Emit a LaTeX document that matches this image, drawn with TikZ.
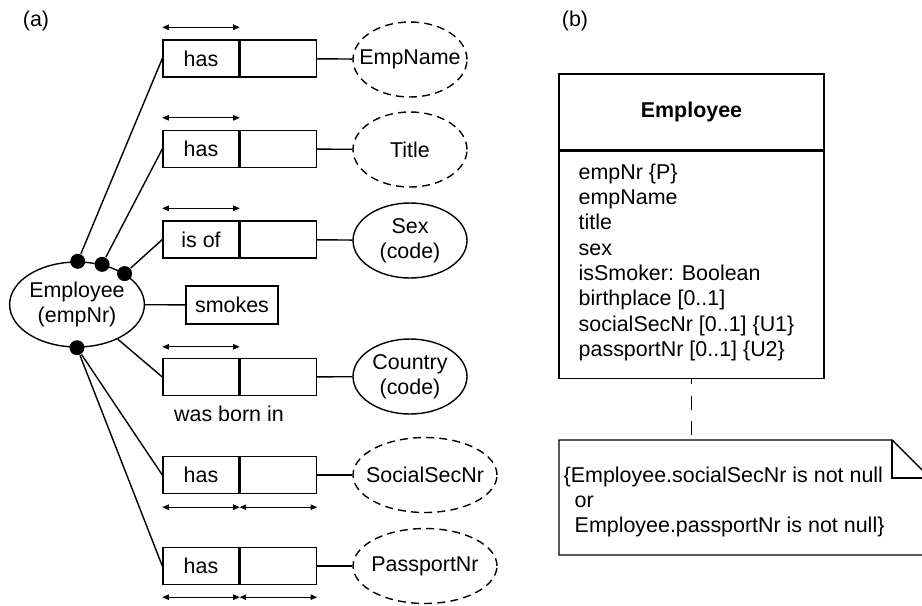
\documentclass[tikz,border=0pt]{standalone}
\usepackage{fontspec}
\setmainfont{Liberation Sans}
\usetikzlibrary{
    arrows.meta,
    positioning,
    shapes.geometric
}
\tikzset{
  role/.style = {draw, minimum width=1.52cm, minimum height=0.74cm, inner sep=0pt},
  ent/.style  = {draw, ellipse, minimum width=2.28cm, minimum height=1.5cm,
                 inner sep=0pt, align=center},
  vent/.style = {ent, dash pattern=on 4.5pt off 3pt},
  uc/.style   = {{Triangle[length=1.3mm,width=1.1mm]}-{Triangle[length=1.3mm,width=1.1mm]},
                 line width=0.5pt},
  dotn/.style = {circle, fill, inner sep=0pt, minimum size=0.3cm}
}

\begin{document}
\begin{tikzpicture}[
    x=0.02cm, y=-0.02cm, line width=0.8pt,
    font=\fontsize{12.2}{14.4}\selectfont,
    cbox/.style={draw, minimum width=5.3cm, inner sep=0pt},
    txt/.style={anchor=north west, align=left, inner sep=0pt}
]
\useasboundingbox (0,0) rectangle (922,605);

\node (lbla) at (36,21) {(a)};
\node (lblb) at (575,21) {(b)};

% (a) ORM schema
\node[ent, minimum width=2.6cm, minimum height=1.7cm] (emp) at (77,304.5) {Employee\\(empNr)};
\node[dotn] (d1) at (emp.89) {};
\node[dotn] (d2) at (emp.58) {};
\node[dotn] (d3) at (emp.33) {};
\node[dotn] (d4) at (emp.270) {};

\node[role] (r1a) at (201,58.5) {has};
\node[role, right=0pt of r1a] (r1b) {};
\node[role] (r2a) at (201,149) {has};
\node[role, right=0pt of r2a] (r2b) {};
\node[role] (r3a) at (201,239.5) {is of};
\node[role, right=0pt of r3a] (r3b) {};
\node[draw, minimum width=1.84cm, minimum height=0.76cm, inner sep=0pt] (smokes) at (232,305) {smokes};
\node[role] (r4a) at (201,377) {};
\node[role, right=0pt of r4a] (r4b) {};
\node (born) at (229,414) {was born in};
\node[role] (r5a) at (201,475) {has};
\node[role, right=0pt of r5a] (r5b) {};
\node[role] (r6a) at (201,566) {has};
\node[role, right=0pt of r6a] (r6b) {};

\node[vent] (empname) at (410,59.5) {\makebox[0pt]{EmpName}};
\node[vent] (title) at (410,149.5) {\makebox[0pt]{Title}};
\node[ent] (sex) at (410,240.5) {Sex\\(code)};
\node[ent] (country) at (410,376.5) {Country\\(code)};
\node[vent, minimum width=2.88cm] (ssn) at (425,475) {\makebox[0pt]{SocialSecNr}};
\node[vent, minimum width=2.88cm] (passport) at (425,566) {\makebox[0pt]{PassportNr}};

\draw (d1) -- (r1a.west);
\draw (d2) -- (r2a.west);
\draw (d3) -- (r3a.west);
\draw (emp) -- (smokes);
\draw (emp) -- (r4a.west);
\draw (d4) -- (r5a.west);
\draw (d4) -- (r6a.west);

\draw (r1b) -- (empname);
\draw (r2b) -- (title);
\draw (r3b) -- (sex);
\draw (r4b) -- (country);
\draw (r5b) -- (ssn);
\draw (r6b) -- (passport);

% uniqueness bars
\draw[uc] ([yshift=0.24cm]r1a.north west) -- ([yshift=0.24cm]r1a.north east);
\draw[uc] ([yshift=0.24cm]r2a.north west) -- ([yshift=0.24cm]r2a.north east);
\draw[uc] ([yshift=0.24cm]r3a.north west) -- ([yshift=0.24cm]r3a.north east);
\draw[uc] ([yshift=0.22cm]r4a.north west) -- ([yshift=0.22cm]r4a.north east);
\draw[uc] ([yshift=-0.26cm]r5a.south west) -- ([yshift=-0.26cm]r5a.south east);
\draw[uc] ([yshift=-0.26cm]r5b.south west) -- ([yshift=-0.26cm]r5b.south east);
\draw[uc] ([yshift=-0.24cm]r6a.south west) -- ([yshift=-0.24cm]r6a.south east);
\draw[uc] ([yshift=-0.24cm]r6b.south west) -- ([yshift=-0.24cm]r6b.south east);

% (b) UML class
\node[cbox, minimum height=1.52cm] (clshead) at (691.5,112) {\textbf{Employee}};
\node[cbox, minimum height=4.54cm, below=0pt of clshead] (clsbody) {};
\node[txt] (attrs) at (578,163) {empNr \{P\}\\empName\\title\\sex\\isSmoker: Boolean\\
  birthplace [0..1]\\socialSecNr [0..1] \{U1\}\\passportNr [0..1] \{U2\}};

% note
\coordinate (notetop) at (693,440);
\draw (559,440) -- (892,440) -- (930,478) -- (930,555) -- (559,555) -- cycle;
\draw (892,440) -- (892,478) -- (930,478);
\node[txt] (notetxt) at (563,466) {\{Employee.socialSecNr is not null\\
  \hspace*{0.22cm}or\\\hspace*{0.22cm}Employee.passportNr is not null\}};
\draw[dash pattern=on 8pt off 6.5pt, dash phase=5pt] (clsbody.south) -- (clsbody.south |- notetop);
\end{tikzpicture}
\end{document}
